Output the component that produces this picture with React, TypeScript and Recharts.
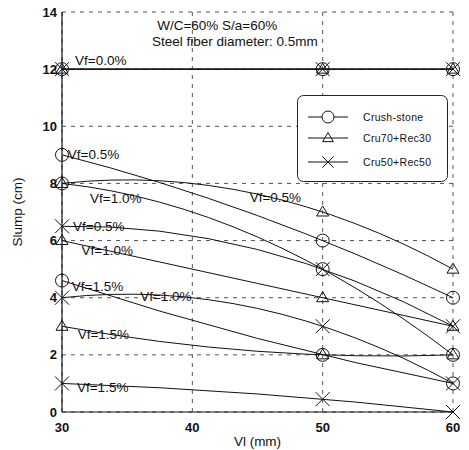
import React from 'react';
import { LineChart, Line, XAxis, YAxis, CartesianGrid, ReferenceDot, Legend } from 'recharts';

// Vl (mm) categories
const vl = [30, 50, 60];

// Crush-stone (circle)
const crush00 = [12, 12, 12];
const crush05 = [9, 6, 4];
const crush10 = [8, 5, 2];
const crush15 = [4.6, 2, 1];

// Cru70+Rec30 (triangle)
const cru70_00 = [12, 12, 12];
const cru70_05 = [8, 7, 5];
const cru70_10 = [6, 4, 3];
const cru70_15 = [3, 2, 2];

// Cru50+Rec50 (cross)
const cru50_00 = [12, 12, 12];
const cru50_05 = [6.5, 5, 3];
const cru50_10 = [4, 3, 1];
const cru50_15 = [1, 0.45, 0];

const xTicks = [30, 40, 50, 60];
const yTicks = [0, 2, 4, 6, 8, 10, 12, 14];
const legendNames = ['Crush-stone', 'Cru70+Rec30', 'Cru50+Rec50'];

// text notes anchored in data units
const noteText = [
  'W/C=60% S/a=60%',
  'Steel fiber diameter: 0.5mm',
  'Vf=0.0%',
  'Vf=0.5%',
  'Vf=1.0%',
  'Vf=0.5%',
  'Vf=0.5%',
  'Vf=1.0%',
  'Vf=1.5%',
  'Vf=1.0%',
  'Vf=1.5%',
  'Vf=1.5%',
];
const noteX = [37.3, 36.9, 31.0, 30.45, 32.15, 44.4, 30.85, 31.5, 30.75, 36.0, 31.2, 31.15];
const noteY = [13.55, 12.98, 12.32, 9.01, 7.49, 7.52, 6.5, 5.67, 4.41, 4.04, 2.73, 0.87];

const seriesDefs: { key: string; values: number[]; marker: 'circle' | 'tri' | 'x' }[] = [
  { key: 'crush00', values: crush00, marker: 'circle' },
  { key: 'crush05', values: crush05, marker: 'circle' },
  { key: 'crush10', values: crush10, marker: 'circle' },
  { key: 'crush15', values: crush15, marker: 'circle' },
  { key: 'cru70_00', values: cru70_00, marker: 'tri' },
  { key: 'cru70_05', values: cru70_05, marker: 'tri' },
  { key: 'cru70_10', values: cru70_10, marker: 'tri' },
  { key: 'cru70_15', values: cru70_15, marker: 'tri' },
  { key: 'cru50_00', values: cru50_00, marker: 'x' },
  { key: 'cru50_05', values: cru50_05, marker: 'x' },
  { key: 'cru50_10', values: cru50_10, marker: 'x' },
  { key: 'cru50_15', values: cru50_15, marker: 'x' },
];

const data = vl.map((x, i) => {
  const row: Record<string, number> = { vl: x };
  seriesDefs.forEach((s) => {
    row[s.key] = s.values[i];
  });
  return row;
});

const INK = '#111';
const FONT = '"Liberation Sans", Arial, Helvetica, sans-serif';

// Curve factory: least-order polynomial (quadratic) fit through the three
// scaled points, drawn as a single quadratic Bezier segment.
const quadFitCurve: any = (context: any) => {
  let pts: [number, number][] = [];
  return {
    areaStart() {},
    areaEnd() {},
    lineStart() {
      pts = [];
    },
    point(x: number, y: number) {
      pts.push([+x, +y]);
    },
    lineEnd() {
      if (pts.length === 0) return;
      context.moveTo(pts[0][0], pts[0][1]);
      if (pts.length === 3) {
        const [[x0, y0], [x1, y1], [x2, y2]] = pts;
        const d0 =
          (y0 * (2 * x0 - x1 - x2)) / ((x0 - x1) * (x0 - x2)) +
          (y1 * (x0 - x2)) / ((x1 - x0) * (x1 - x2)) +
          (y2 * (x0 - x1)) / ((x2 - x0) * (x2 - x1));
        const cx = (x0 + x2) / 2;
        const cy = y0 + d0 * (cx - x0);
        context.quadraticCurveTo(cx, cy, x2, y2);
      } else {
        for (let i = 1; i < pts.length; i++) context.lineTo(pts[i][0], pts[i][1]);
      }
    },
  };
};

const markerPath = (type: string, cx: number, cy: number, s = 1) => {
  if (type === 'tri') {
    return `M${cx},${cy - 6 * s}L${cx + 6 * s},${cy + 4 * s}L${cx - 6 * s},${cy + 4 * s}Z`;
  }
  if (type === 'x') {
    const h = 7 * s;
    return `M${cx - h},${cy - h}L${cx + h},${cy + h}M${cx - h},${cy + h}L${cx + h},${cy - h}`;
  }
  return '';
};

const makeDot = (type: string) => (p: any) => {
  const { cx, cy, index } = p;
  if (cx == null || cy == null) return <g key={`e${index}`} />;
  if (type === 'circle') {
    return <circle key={`d${index}`} cx={cx} cy={cy} r={6.5} fill="none" stroke={INK} strokeWidth={1} />;
  }
  return <path key={`d${index}`} d={markerPath(type, cx, cy)} fill="none" stroke={INK} strokeWidth={1} />;
};

const LegendBox = () => {
  const rows = [22, 43, 67];
  const types = ['circle', 'tri', 'x'];
  return (
    <svg width={152} height={88} style={{ display: 'block' }}>
      <rect x={0.5} y={0.5} width={150} height={86} rx={6} fill="#fff" stroke="#222" strokeWidth={1} />
      {legendNames.map((name, i) => (
        <g key={name}>
          <line x1={11} x2={51} y1={rows[i]} y2={rows[i]} stroke={INK} strokeWidth={1} />
          {types[i] === 'circle' ? (
            <circle cx={31} cy={rows[i]} r={6} fill="#fff" stroke={INK} strokeWidth={1} />
          ) : (
            <path d={markerPath(types[i], 31, rows[i], types[i] === 'x' ? 0.8 : 0.9)} fill="none" stroke={INK} strokeWidth={1} />
          )}
          <text x={66} y={rows[i] + 4} fontSize={10.5} fontFamily={FONT} fill={INK} letterSpacing={0.3}>
            {name}
          </text>
        </g>
      ))}
    </svg>
  );
};

export default function App() {
  return (
    <div style={{ position: 'absolute', left: 0, top: 0, background: '#fff' }}>
      <LineChart
        width={469}
        height={450}
        data={data}
        margin={{ top: 12, right: 16, bottom: 0, left: 0 }}
        style={{ fontFamily: FONT }}
      >
        <CartesianGrid stroke="#555" strokeDasharray="4 5" strokeWidth={1} />
        <XAxis
          dataKey="vl"
          type="number"
          domain={[30, 60]}
          ticks={xTicks}
          height={38}
          tickLine={false}
          tickSize={0}
          tickMargin={11}
          axisLine={{ stroke: INK, strokeWidth: 1.2 }}
          tick={{ fill: INK, fontSize: 13, fontWeight: 'bold', fontFamily: FONT }}
          label={{ value: 'Vl (mm)', position: 'insideBottom', offset: 4, fill: INK, fontSize: 13.5, fontFamily: FONT }}
        />
        <YAxis
          type="number"
          domain={[0, 14]}
          ticks={yTicks}
          width={62}
          tickLine={false}
          tickSize={0}
          tickMargin={5}
          axisLine={{ stroke: INK, strokeWidth: 1.2 }}
          tick={{ fill: INK, fontSize: 13, fontWeight: 'bold', fontFamily: FONT }}
          label={{
            value: 'Slump (cm)',
            angle: -90,
            position: 'insideLeft',
            offset: 17,
            fill: INK,
            fontSize: 13.5,
            fontFamily: FONT,
            style: { textAnchor: 'middle' },
          }}
        />
        {seriesDefs.map((s) => (
          <Line
            key={s.key}
            dataKey={s.key}
            type={quadFitCurve}
            stroke={INK}
            strokeWidth={1}
            dot={makeDot(s.marker)}
            activeDot={false}
            isAnimationActive={false}
            legendType="none"
          />
        ))}
        {noteText.map((t, i) => (
          <ReferenceDot
            key={`n${i}`}
            x={noteX[i]}
            y={noteY[i]}
            r={0}
            fill="none"
            stroke="none"
            label={{ value: t, position: 'right', offset: 0, fill: INK, fontSize: 13.5, fontFamily: FONT }}
          />
        ))}
        <Legend
          layout="vertical"
          align="center"
          verticalAlign="middle"
          content={() => <LegendBox />}
          wrapperStyle={{ left: 297, top: 95, width: 152, height: 88 }}
        />
      </LineChart>
    </div>
  );
}
